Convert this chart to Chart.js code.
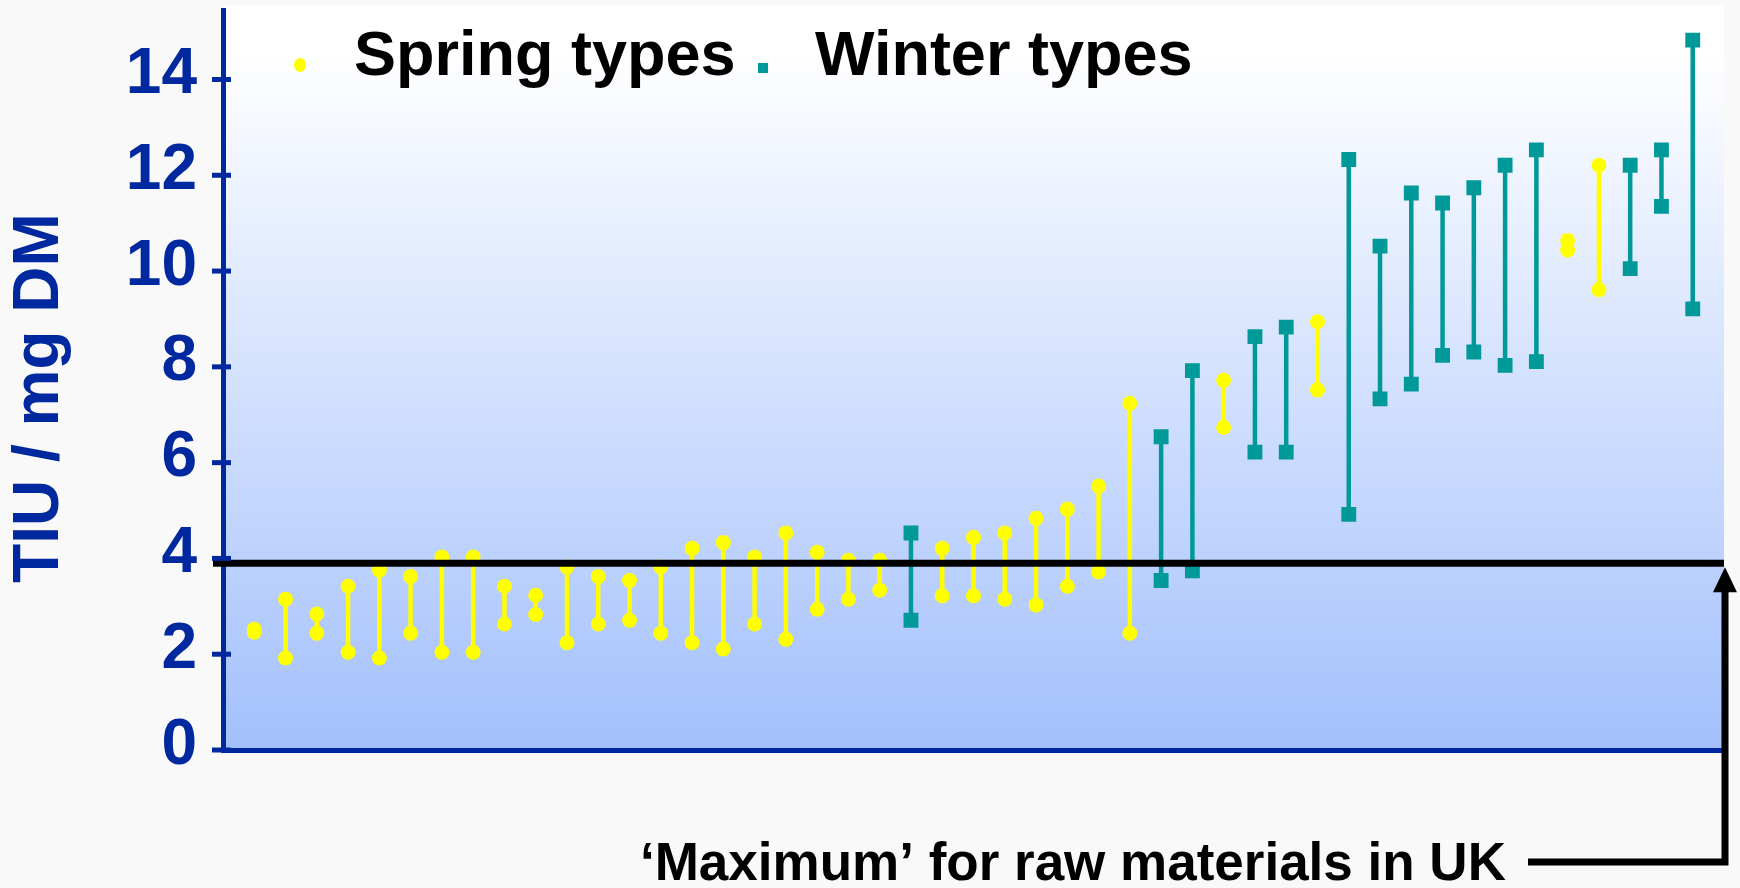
<!DOCTYPE html>
<html>
<head>
<meta charset="utf-8">
<script src="https://cdn.jsdelivr.net/npm/chart.js@4.4.1/dist/chart.umd.min.js"></script>
<style>
html,body{margin:0;padding:0;background:#f9f9f9;overflow:hidden}
#wrap{width:1740px;height:888px;position:relative}
canvas{display:block}
</style>
</head>
<body>
<div id="wrap"><canvas id="c" width="1740" height="888"></canvas></div>
<script>
// ---- data ----
const varieties = [1,2,3,4,5,6,7,8,9,10,11,12,13,14,15,16,17,18,19,20,21,22,23,24,25,26,27,28,29,30,31,32,33,34,35,36,37,38,39,40,41,42,43,44,45,46,47];
const types = ['S','S','S','S','S','S','S','S','S','S','S','S','S','S','S','S','S','S','S','S','S','W','S','S','S','S','S','S','S','W','W','S','W','W','S','W','W','W','W','W','W','W','S','S','W','W','W'];
const highTIU = [2.52,3.15,2.84,3.42,3.76,3.62,4.03,4.03,3.42,3.23,3.82,3.62,3.54,3.82,4.21,4.33,4.03,4.53,4.13,3.96,3.96,4.53,4.21,4.44,4.53,4.84,5.03,5.51,7.24,6.54,7.92,7.72,8.63,8.83,8.94,12.33,10.52,11.63,11.42,11.74,12.21,12.53,10.64,12.21,12.21,12.53,14.82];
const lowTIU  = [2.46,1.92,2.44,2.04,1.92,2.44,2.04,2.04,2.63,2.83,2.24,2.63,2.71,2.44,2.24,2.11,2.63,2.31,2.94,3.15,3.34,2.71,3.22,3.22,3.15,3.03,3.42,3.72,2.44,3.54,3.74,6.74,6.22,6.22,7.52,4.92,7.33,7.64,8.24,8.31,8.03,8.11,10.44,9.61,10.05,11.35,9.21];
const yTicks = [0,2,4,6,8,10,12,14];
const ukMaximum = 3.9;
const seriesLabels = {S:'Spring types', W:'Winter types'};
const yTitle = 'TIU / mg DM';
const annotationText = '\u2018Maximum\u2019 for raw materials in UK';

// ---- styling ----
const BLUE = '#00289f';
const YELLOW = '#ffff00';
const TEAL = '#009999';
const FONT = '"Liberation Sans", Arial, Helvetica, sans-serif';

function rangeData(t){
  const out = [];
  varieties.forEach((v,i)=>{
    if(types[i]===t){
      out.push({x:v,y:lowTIU[i]},{x:v,y:highTIU[i]},{x:v,y:null});
    }
  });
  return out;
}

const decor = {
  id:'decor',
  beforeDraw(chart){
    const {ctx, chartArea:a} = chart;
    ctx.save();
    ctx.fillStyle = '#f9f9f9';
    ctx.fillRect(0,0,chart.width,chart.height);
    const top = a.top - 5;
    const g = ctx.createLinearGradient(0, top, 0, a.bottom);
    g.addColorStop(0, '#ffffff');
    g.addColorStop(0.06, '#ffffff');
    g.addColorStop(1, '#a3c0fc');
    ctx.fillStyle = g;
    ctx.fillRect(a.left, top, a.right - a.left, a.bottom - top);
    ctx.restore();
  },
  afterDraw(chart){
    const {ctx, chartArea:a, scales} = chart;
    const ys = scales.y, xs = scales.x;
    ctx.save();
    // crossing tick marks on y axis
    ctx.strokeStyle = BLUE; ctx.lineWidth = 5; ctx.lineCap = 'butt';
    ys.ticks.forEach(t=>{
      const p = ys.getPixelForValue(t.value);
      ctx.beginPath(); ctx.moveTo(a.left-11, p); ctx.lineTo(a.left+8, p); ctx.stroke();
    });
    // legend
    ctx.fillStyle = YELLOW;
    ctx.beginPath(); ctx.ellipse(300, 65, 6, 7, 0, 0, Math.PI*2); ctx.fill();
    ctx.fillStyle = TEAL;
    ctx.fillRect(758, 63, 10, 10);
    ctx.fillStyle = '#000';
    ctx.font = 'bold 63px ' + FONT;
    ctx.textBaseline = 'alphabetic'; ctx.textAlign = 'left';
    ctx.fillText(seriesLabels.S, 354, 75);
    ctx.fillText(seriesLabels.W, 815, 75);
    // arrow to the UK maximum line
    const xr = xs.getPixelForValue(48) + 1;
    const yl = ys.getPixelForValue(ukMaximum);
    const tip = yl + 4;
    ctx.fillStyle = '#000';
    ctx.beginPath(); ctx.moveTo(xr, tip); ctx.lineTo(xr-12, tip+25); ctx.lineTo(xr+12, tip+25); ctx.closePath(); ctx.fill();
    ctx.strokeStyle = '#000'; ctx.lineWidth = 7; ctx.lineJoin = 'miter';
    ctx.beginPath(); ctx.moveTo(xr, tip+20); ctx.lineTo(xr, 862); ctx.lineTo(1528, 862); ctx.stroke();
    // annotation text
    ctx.font = 'bold 53px ' + FONT;
    ctx.fillText(annotationText, 640, 880);
    ctx.restore();
  }
};

new Chart(document.getElementById('c'), {
  type:'line',
  data:{
    datasets:[
      {label:'UK maximum', data:[{x:-0.32,y:ukMaximum},{x:48,y:ukMaximum}], borderColor:'#000', borderWidth:7, pointRadius:0, clip:false, order:0, borderCapStyle:'butt'},
      {label:seriesLabels.S, data:rangeData('S'), borderColor:YELLOW, backgroundColor:YELLOW, borderWidth:4.5, pointStyle:'circle', pointRadius:7.5, pointBorderWidth:0, pointBackgroundColor:YELLOW, spanGaps:false, tension:0, order:1},
      {label:seriesLabels.W, data:rangeData('W'), borderColor:TEAL, backgroundColor:TEAL, borderWidth:4.5, pointStyle:'rect', pointRadius:10.5, pointBorderWidth:0, pointBackgroundColor:TEAL, spanGaps:false, tension:0, order:1}
    ]
  },
  options:{
    responsive:false,
    animation:false,
    devicePixelRatio:1,
    events:[],
    layout:{padding:{left:0,right:16,top:9,bottom:138}},
    plugins:{legend:{display:false}, tooltip:{enabled:false}},
    scales:{
      x:{
        type:'linear', min:0, max:48,
        grid:{display:false},
        ticks:{display:false},
        border:{display:true,color:BLUE,width:5},
        afterFit(s){ s.height = 0; s.paddingLeft = 0; s.paddingRight = 0; }
      },
      y:{
        type:'linear', min:0, max:15.44,
        afterBuildTicks(s){ s.ticks = yTicks.map(v=>({value:v})); },
        grid:{display:false},
        border:{display:true,color:BLUE,width:5},
        ticks:{color:BLUE, font:{family:FONT, size:64, weight:'bold'}, padding:18, labelOffset:-4},
        title:{display:true, text:yTitle + '  ', color:BLUE, font:{family:FONT, size:64, weight:'bold'}, padding:{top:2,bottom:0}},
        afterFit(s){ s.width = 223; s.paddingTop = 0; s.paddingBottom = 0; }
      }
    }
  },
  plugins:[decor]
});
</script>
</body>
</html>
